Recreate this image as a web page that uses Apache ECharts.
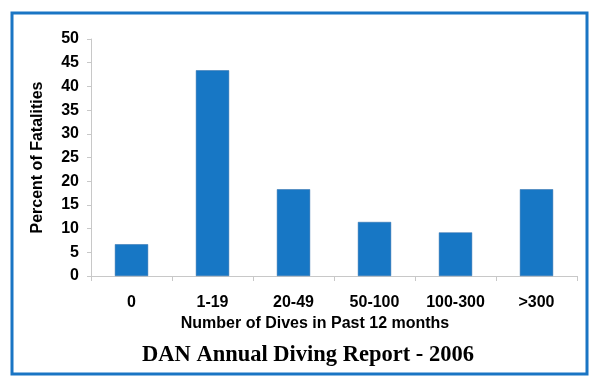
<!DOCTYPE html>
<html><head><meta charset="utf-8">
<script src="https://cdn.jsdelivr.net/npm/echarts@6/dist/echarts.min.js"></script>
<style>html,body{margin:0;padding:0;background:#fff}#c{width:600px;height:390px}</style>
</head><body><div id="c"></div>
<script>
var categories = ['0', '1-19', '20-49', '50-100', '100-300', '>300'];
var percentFatalities = [6.7, 43.4, 18.3, 11.4, 9.2, 18.3];
var yTicks = [0, 5, 10, 15, 20, 25, 30, 35, 40, 45, 50];
var xAxisTitle = 'Number of Dives in Past 12 months';
var chartTitle = 'DAN Annual Diving Report - 2006';

var sans = '"Liberation Sans", Arial, sans-serif';
var chart = echarts.init(document.getElementById('c'), null, {renderer: 'canvas'});
chart.setOption({
  backgroundColor: '#ffffff',
  animation: false,
  grid: {left: 91, right: 23, top: 39, bottom: 114, containLabel: false},
  graphic: [{
    type: 'rect', z: 100,
    shape: {x: 12, y: 13, width: 575, height: 361},
    style: {fill: 'none', stroke: '#1a75c4', lineWidth: 3}
  }, {
    type: 'text', x: 315, y: 324,
    style: {text: xAxisTitle, font: 'bold 16px ' + sans, fill: '#000', align: 'center', verticalAlign: 'middle'}
  }, {
    type: 'text', x: 308, y: 355,
    style: {text: chartTitle, font: 'bold 22.5px "Liberation Serif", "Times New Roman", serif', fill: '#000', align: 'center', verticalAlign: 'middle'}
  }],
  xAxis: {
    type: 'category', data: categories,
    axisLine: {lineStyle: {color: '#c8c8c8', width: 1}},
    axisTick: {show: true, alignWithLabel: false, length: 5, lineStyle: {color: '#c8c8c8'}},
    axisLabel: {fontFamily: sans, fontWeight: 'bold', fontSize: 16, color: '#000', margin: 19}
  },
  yAxis: {
    type: 'value', min: yTicks[0], max: yTicks[yTicks.length - 1], interval: 5,
    name: 'Percent of Fatalities', nameLocation: 'middle', nameGap: 45, nameRotate: 90,
    nameTextStyle: {fontFamily: sans, fontWeight: 'bold', fontSize: 16, color: '#000'},
    axisLine: {show: true, lineStyle: {color: '#c8c8c8', width: 1}},
    axisTick: {show: true, length: 4, lineStyle: {color: '#c8c8c8'}},
    splitLine: {show: false},
    axisLabel: {fontFamily: sans, fontWeight: 'bold', fontSize: 16, color: '#000', margin: 12}
  },
  series: [{
    type: 'bar', data: percentFatalities, barWidth: '41%',
    itemStyle: {color: '#1777c5', borderColor: '#2a6aa8', borderWidth: 0.5}
  }]
});
</script></body></html>
